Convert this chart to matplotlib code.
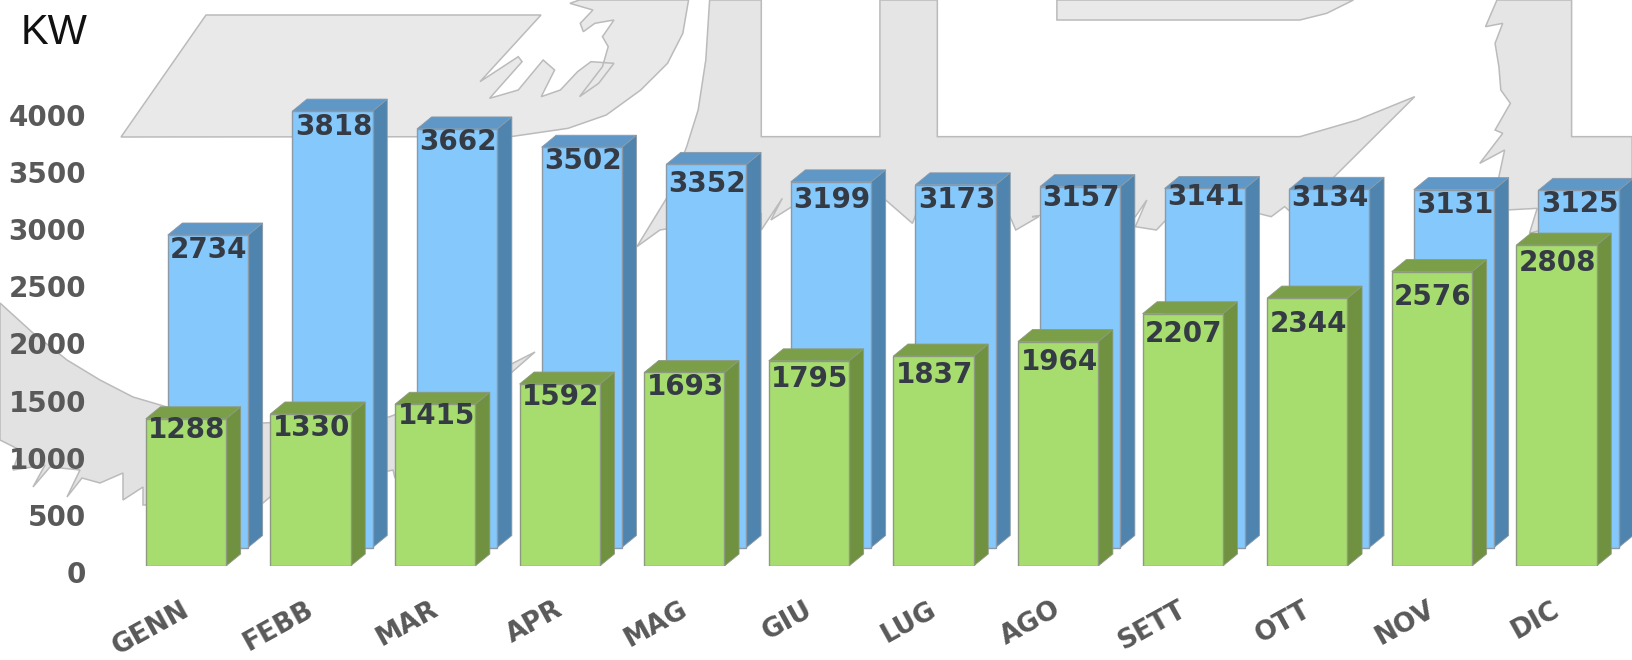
import matplotlib
matplotlib.use("Agg")
import matplotlib.pyplot as plt
from matplotlib.patches import Polygon
from matplotlib.transforms import ScaledTranslation

months = ["GENN", "FEBB", "MAR", "APR", "MAG", "GIU", "LUG", "AGO", "SETT", "OTT", "NOV", "DIC"]
series_back = [2734, 3818, 3662, 3502, 3352, 3199, 3173, 3157, 3141, 3134, 3131, 3125]
series_front = [1288, 1330, 1415, 1592, 1693, 1795, 1837, 1964, 2207, 2344, 2576, 2808]
y_ticks = [0, 500, 1000, 1500, 2000, 2500, 3000, 3500, 4000]

# label gaps under the top edge of each bar, in pixels (styling)
gap_back = [15, 16, 13, 14, 20, 18, 15, 11, 9, 9, 15, 14]
gap_front = [11, 14, 12, 13, 15, 18, 19, 20, 20, 26, 25, 18]

W, H = 1632, 660
DPI = 100
PX_PER_CAT = 124.6
PX_PER_UNIT = 0.1143
X0 = 185.9
Y0 = 566
AX_LEFT = 100
BAR_W = 80.3 / PX_PER_CAT
DX = 14.6 / PX_PER_CAT
DY = 12 / PX_PER_UNIT
BACK_DX = 22 / PX_PER_CAT
BACK_BASE = 18.5 / PX_PER_UNIT

fig = plt.figure(figsize=(W / DPI, H / DPI), dpi=DPI, facecolor="white")

# ---- watermark (decorative background, pixel coordinates) ----
bg = fig.add_axes([0, 0, 1, 1], zorder=0)
bg.set_xlim(0, W)
bg.set_ylim(H, 0)
bg.axis("off")

def z4(pts):
    return [(480 + x / 2.613, y / 3) for x, y in pts]

def z5(pts):
    return [(1032 + x / 2.613, y / 3) for x, y in pts]

disc = [(206, 15), (541, 15)] + z4([
    (0, 245), (100, 170), (110, 185), (25, 295), (100, 270), (165, 180), (195, 210),
    (160, 290), (210, 270), (255, 215), (290, 185), (350, 190), (310, 250), (260, 290),
    (320, 200), (335, 140), (320, 110), (350, 60), (300, 70), (270, 95), (262, 70),
    (295, 30), (235, 10), (260, 0), (545, 0), (530, 100), (490, 190), (420, 270),
    (330, 345), (230, 385), (80, 410)]) + [(121, 137)]

middle = z4([
    (600, 0), (590, 180), (570, 330), (540, 440), (490, 590), (410, 740), (470, 690),
    (735, 640), (735, 690), (790, 595), (760, 660), (815, 620), (1060, 600), (1100, 640),
    (1130, 670), (1140, 640), (1385, 650), (1400, 690), (1460, 650)]) + z5([
    (0, 650), (60, 640), (270, 650), (300, 600), (270, 680), (325, 690), (350, 660),
    (590, 640), (625, 650), (660, 620), (680, 640), (760, 560), (790, 530), (1000, 290),
    (850, 360), (700, 410), (0, 410)]) + z4([
    (1195, 410), (1195, 0), (1045, 0), (1045, 410), (735, 410), (735, 0)])

right = z5([
    (1215, 0), (1185, 80), (1230, 70), (1210, 130), (1220, 200), (1225, 270), (1250, 310),
    (1210, 390), (1230, 400), (1170, 490), (1235, 450), (1220, 530), (1240, 630),
    (1320, 625), (1300, 700), (1330, 690), (1400, 690), (1568, 680), (1568, 410),
    (1410, 410), (1410, 0)])

band_top = z5([(65, 0), (65, 60), (700, 60), (770, 40), (840, 0)])

left = [(0, 303), (33, 333), (67, 360), (100, 380), (133, 397), (167, 407), (263, 423),
        (389, 417), (470, 385), (535, 352), (511, 373), (395, 478), (393, 470), (270, 497),
        (263, 503), (143, 505), (143, 487), (123, 500), (123, 473), (100, 483), (82, 478),
        (67, 497), (80, 470), (50, 467), (33, 487), (45, 465), (13, 470), (20, 450), (0, 440)]

for pts, col in [(disc, "#e9e9e9"), (middle, "#e5e5e5"), (right, "#e5e5e5"),
                 (band_top, "#e9e9e9"), (left, "#e2e2e2")]:
    bg.add_patch(Polygon(pts, closed=True, facecolor=col, edgecolor="#bbbbbb", linewidth=1.1))

# ---- chart ----
ax = fig.add_axes([AX_LEFT / W, (H - Y0) / H, (W - AX_LEFT) / W, Y0 / H], zorder=1)
ax.patch.set_alpha(0)
ax.set_xlim((AX_LEFT - X0) / PX_PER_CAT, (W - X0) / PX_PER_CAT)
ax.set_ylim(0, Y0 / PX_PER_UNIT)
for s in ax.spines.values():
    s.set_visible(False)


def draw_3d(xs, values, base, front, side, top, edge, gaps, z):
    ax.bar(xs, values, width=BAR_W, bottom=base, color=front, edgecolor=edge,
           linewidth=1, zorder=z + 0.2)
    for x, v, g in zip(xs, values, gaps):
        r = x + BAR_W / 2
        l = x - BAR_W / 2
        t = base + v
        ax.add_patch(Polygon([(r, base), (r + DX, base + DY), (r + DX, t + DY), (r, t)],
                             facecolor=side, edgecolor=edge, linewidth=0.6, zorder=z + 0.1))
        ax.add_patch(Polygon([(l, t), (l + DX, t + DY), (r + DX, t + DY), (r, t)],
                             facecolor=top, edgecolor=edge, linewidth=0.6, zorder=z + 0.1))
        ax.annotate(str(v), (x, t), xytext=(0.7, -g * 72 / DPI), textcoords="offset points",
                    ha="center", va="center", fontsize=20, fontweight="bold",
                    color="#353b45", zorder=z + 0.3, annotation_clip=False)


pos = list(range(len(months)))
draw_3d([p + BACK_DX for p in pos], series_back, BACK_BASE,
        "#85c8fc", "#4f84ae", "#5f97c6", "#8b9aa6", gap_back, 2)
draw_3d(pos, series_front, 0,
        "#a7dc6e", "#70913f", "#7b9f48", "#8d9a80", gap_front, 3)

ax.set_yticks(y_ticks)
ax.set_xticks(pos)
ax.set_xticklabels(months, rotation=29, ha="right", va="top", rotation_mode="anchor",
                   fontsize=19, fontweight="bold", color="#595959")
ax.tick_params(axis="both", length=0)
ax.tick_params(axis="y", pad=10, labelsize=20, labelcolor="#595959")
ax.tick_params(axis="x", pad=22)
for lab in ax.get_yticklabels():
    lab.set_fontweight("bold")
    lab.set_transform(lab.get_transform() + ScaledTranslation(0, -6 / DPI, fig.dpi_scale_trans))
for lab in ax.get_xticklabels():
    lab.set_transform(lab.get_transform() + ScaledTranslation(-5 / DPI, 0, fig.dpi_scale_trans))

fig.text(21 / W, 1 - 33 / H, "KW", fontsize=30, color="#111111", family="Liberation Sans",
         ha="left", va="center")

fig.savefig("out.png", dpi=DPI)
